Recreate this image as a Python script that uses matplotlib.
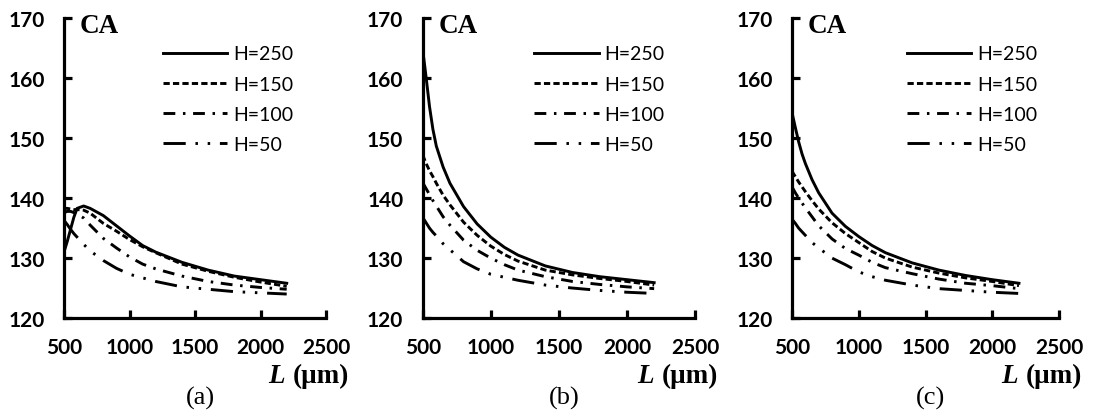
import matplotlib
matplotlib.use("Agg")
import matplotlib.pyplot as plt

# Channel length L (µm) at which the contact angle was evaluated
L_um = [500, 525, 550, 575, 600, 650, 700, 800, 900, 1000, 1100, 1200, 1400, 1600, 1800, 2000, 2200]
heights = ["H=250", "H=150", "H=100", "H=50"]
panel_tags = ["(a)", "(b)", "(c)"]

# Contact angle CA (deg), panel (a)
ca_a_h250 = [131.0, 132.8, 134.8, 136.8, 138.3, 138.7, 138.3, 137.1, 135.4, 133.7, 132.1, 131.0, 129.3, 128.0, 127.0, 126.4, 125.8]
ca_a_h150 = [138.3, 138.3, 138.2, 138.1, 138.1, 138.0, 137.5, 135.8, 134.5, 133.1, 131.9, 130.9, 129.0, 127.8, 126.8, 126.0, 125.3]
ca_a_h100 = [137.6, 137.8, 137.8, 137.6, 137.3, 136.7, 135.5, 133.3, 131.7, 130.2, 129.0, 128.2, 127.0, 126.1, 125.5, 125.1, 124.8]
ca_a_h50 = [136.3, 135.6, 134.8, 134.1, 133.5, 132.3, 131.2, 129.6, 128.3, 127.3, 126.7, 126.1, 125.2, 124.8, 124.4, 124.2, 124.0]

# Contact angle CA (deg), panel (b)
ca_b_h250 = [164.8, 160.2, 155.3, 151.5, 148.7, 145.2, 142.5, 138.6, 135.7, 133.5, 131.8, 130.5, 128.7, 127.6, 126.9, 126.4, 125.9]
ca_b_h150 = [147.2, 145.8, 144.6, 143.6, 142.5, 140.5, 138.9, 136.0, 133.8, 132.0, 130.6, 129.5, 128.0, 127.2, 126.6, 126.1, 125.5]
ca_b_h100 = [142.6, 141.6, 140.6, 139.6, 138.7, 136.9, 135.5, 133.0, 131.3, 130.0, 128.9, 128.0, 126.9, 126.1, 125.6, 125.2, 124.9]
ca_b_h50 = [136.8, 135.9, 135.0, 134.3, 133.7, 132.4, 131.4, 129.4, 128.2, 127.3, 126.8, 126.3, 125.5, 125.0, 124.6, 124.3, 124.1]

# Contact angle CA (deg), panel (c)
ca_c_h250 = [154.3, 151.8, 149.4, 147.4, 145.8, 143.1, 140.9, 137.5, 135.3, 133.6, 132.1, 130.9, 129.2, 128.0, 127.1, 126.4, 125.8]
ca_c_h150 = [144.5, 143.6, 142.7, 141.9, 141.1, 139.6, 138.2, 135.9, 134.1, 132.6, 131.1, 130.0, 128.5, 127.5, 126.7, 126.1, 125.4]
ca_c_h100 = [141.9, 140.9, 140.0, 139.2, 138.4, 136.9, 135.4, 133.2, 131.6, 130.5, 129.3, 128.4, 127.4, 126.5, 125.8, 125.4, 124.9]
ca_c_h50 = [136.5, 135.8, 135.0, 134.4, 133.8, 132.6, 131.7, 130.0, 128.9, 127.7, 126.9, 126.3, 125.5, 124.9, 124.6, 124.3, 124.1]

panels = [
    [ca_a_h250, ca_a_h150, ca_a_h100, ca_a_h50],
    [ca_b_h250, ca_b_h150, ca_b_h100, ca_b_h50],
    [ca_c_h250, ca_c_h150, ca_c_h100, ca_c_h50],
]

x_ticks = [500, 1000, 1500, 2000, 2500]
y_ticks = [120, 130, 140, 150, 160, 170]

plt.rcParams["lines.scale_dashes"] = False

W, H = 1093, 414
fig = plt.figure(figsize=(W / 100, H / 100), dpi=100)

# axes boxes in pixels: left, right, bottom(y=120), top(y=170)
boxes = [(64, 326, 319, 19.5), (422.7, 695, 319, 19.5), (792, 1059, 319, 19.5)]
legend_x = [0.378, 0.41, 0.43]

styles = [
    dict(linestyle="-"),
    dict(linestyle=(0, (4.5, 2.3))),
    dict(linestyle=(0, (8.5, 5.5, 1.8, 5.5))),
    dict(linestyle=(0, (16, 7, 1.8, 7, 1.8, 7))),
]

serif_bold = dict(family="Liberation Serif", weight="bold")

for i, (series, (xl, xr, yb, yt)) in enumerate(zip(panels, boxes)):
    ax = fig.add_axes([xl / W, 1 - yb / H, (xr - xl) / W, (yb - yt) / H])
    for vals, lab, st in zip(series, heights, styles):
        ax.plot(L_um, vals, color="black", lw=2.1, label=lab, **st)

    ax.set_xlim(500, 2500)
    ax.set_ylim(120, 170)
    ax.set_xticks(x_ticks)
    ax.set_yticks(y_ticks)
    for s in ("top", "right"):
        ax.spines[s].set_visible(False)
    for s in ("left", "bottom"):
        ax.spines[s].set_linewidth(2.3)
    ax.tick_params(direction="in", length=5.5, width=2.3, color="black")
    ax.tick_params(axis="y", pad=14)
    ax.tick_params(axis="x", pad=14)
    for lbl in ax.get_xticklabels() + ax.get_yticklabels():
        lbl.set_fontfamily("Lato")
        lbl.set_fontweight("bold")
        lbl.set_fontsize(15)

    ax.legend(loc="upper left", bbox_to_anchor=(legend_x[i], 0.91),
              frameon=False, borderpad=0, borderaxespad=0,
              handlelength=3.3, handletextpad=0.3, labelspacing=0.68,
              prop=dict(family="Lato", size=14))

    # "CA" header
    fig.text((xl + 16) / W, 1 - 33 / H, "CA", ha="left", va="baseline",
             fontsize=19.5, **serif_bold)
    # axis title "L (µm)"
    fig.text((xr - 41) / W, 1 - 383 / H, "L", ha="right", va="baseline",
             fontsize=19.5, family="Liberation Serif", weight="bold", style="italic")
    fig.text((xr - 33) / W, 1 - 383 / H, "(μm)", ha="left", va="baseline",
             fontsize=19.5, **serif_bold)
    # panel tag
    fig.text(((xl + xr) / 2 + 5) / W, 1 - 405 / H, panel_tags[i], ha="center",
             va="baseline", fontsize=19, family="Liberation Serif")

fig.savefig("out.png", dpi=100)
